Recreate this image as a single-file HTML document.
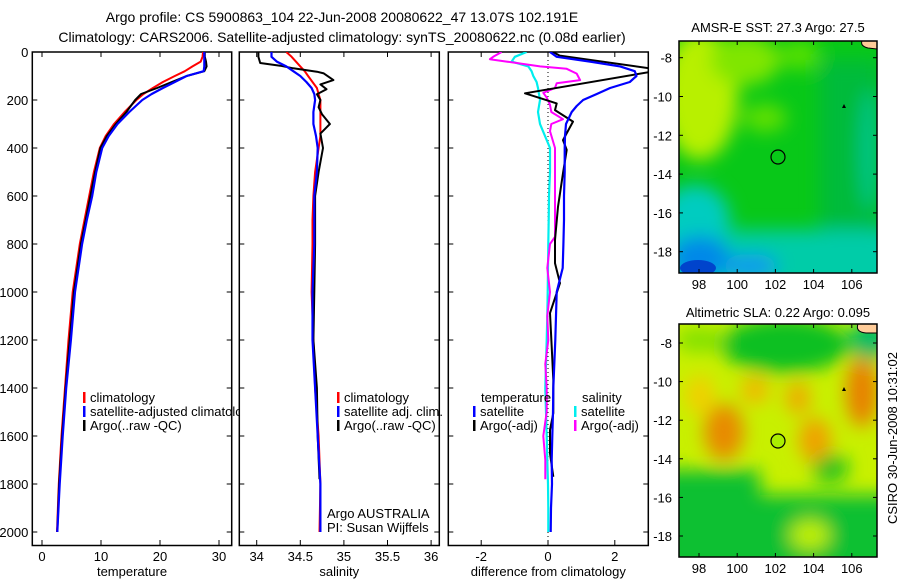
<!DOCTYPE html>
<html><head><meta charset="utf-8"><style>
html,body{margin:0;padding:0;background:#fff}
svg{display:block;font-family:"Liberation Sans",sans-serif}
</style></head><body>
<svg id="c" width="900" height="580" viewBox="0 0 900 580" xmlns="http://www.w3.org/2000/svg">
<defs>
<clipPath id="cp1"><rect x="32" y="52" width="200" height="494"/></clipPath>
<clipPath id="cp2"><rect x="239" y="52" width="201" height="494"/></clipPath>
<clipPath id="cp3"><rect x="448" y="52" width="201" height="494"/></clipPath>
<clipPath id="cm1"><rect x="679" y="41" width="198" height="232"/></clipPath>
<clipPath id="cm2"><rect x="679" y="324" width="198" height="233"/></clipPath>
<filter id="bl" x="-50%" y="-50%" width="200%" height="200%"><feGaussianBlur stdDeviation="9"/></filter>
</defs>
<text x="342" y="22" font-size="14" text-anchor="middle">Argo profile: CS 5900863_104 22-Jun-2008 20080622_47 13.07S 102.191E</text>
<text x="342" y="42" font-size="14" text-anchor="middle">Climatology: CARS2006. Satellite-adjusted climatology: synTS_20080622.nc (0.08d earlier)</text>

<!-- map 1 -->
<g>
<g clip-path="url(#cm1)">
<rect x="679" y="41" width="198" height="232" fill="#08c818"/>
<g filter="url(#bl)">
<rect x="820" y="60" width="60" height="200" fill="#05bb3a"/>
<ellipse cx="700" cy="95" rx="38" ry="65" fill="#b8f000"/>
<ellipse cx="745" cy="60" rx="35" ry="25" fill="#80e600"/>
<ellipse cx="765" cy="118" rx="22" ry="14" fill="#60e000"/>
<ellipse cx="800" cy="55" rx="20" ry="15" fill="#55e000"/>
<rect x="660" y="230" width="240" height="60" fill="#00cca8"/>
<ellipse cx="695" cy="220" rx="35" ry="35" fill="#00ccc0"/>
<ellipse cx="700" cy="258" rx="30" ry="22" fill="#0088e8"/>
<ellipse cx="750" cy="266" rx="28" ry="12" fill="#1199ee"/>
<ellipse cx="870" cy="150" rx="10" ry="60" fill="#00c48a"/>
</g>
<ellipse cx="698" cy="268" rx="18" ry="8" fill="#0044cc"/>
<path d="M862 41 L877 41 L877 49 L868 48 Q860 46 862 41 Z" fill="#ffcc99" stroke="#000" stroke-width="1"/>
</g>
<rect x="679" y="41" width="198" height="232" fill="none" stroke="#000" stroke-width="1.5"/>
<circle cx="778" cy="157" r="7" fill="none" stroke="#000" stroke-width="1.2"/>
<path d="M842 108 L844 104 L846 108 Z" fill="#000"/>
<text x="778" y="32" font-size="13" text-anchor="middle">AMSR-E SST: 27.3 Argo: 27.5</text>
</g>
<!-- map 2 -->
<g>
<g clip-path="url(#cm2)">
<rect x="679" y="324" width="198" height="233" fill="#c8f000"/>
<g filter="url(#bl)">
<ellipse cx="785" cy="345" rx="65" ry="28" fill="#10c020"/>
<ellipse cx="700" cy="340" rx="25" ry="12" fill="#80e000"/>
<ellipse cx="870" cy="340" rx="20" ry="20" fill="#00bb66"/>
<rect x="660" y="495" width="260" height="80" fill="#10c030"/>
<rect x="660" y="470" width="100" height="40" fill="#10c030"/>
<ellipse cx="830" cy="468" rx="18" ry="14" fill="#10c020"/>
<ellipse cx="810" cy="535" rx="20" ry="15" fill="#c0f000"/>
<ellipse cx="724" cy="432" rx="20" ry="28" fill="#e88a00"/>
<ellipse cx="862" cy="392" rx="16" ry="35" fill="#e88000"/>
<ellipse cx="755" cy="390" rx="14" ry="14" fill="#f0b800"/>
<ellipse cx="798" cy="398" rx="12" ry="16" fill="#f0a800"/>
<ellipse cx="815" cy="440" rx="16" ry="22" fill="#f0a000"/>
<ellipse cx="700" cy="395" rx="15" ry="20" fill="#f0d000"/>
</g>
<path d="M858 324 L877 324 L877 333 L866 333 Q855 332 858 324 Z" fill="#ffcc99" stroke="#000" stroke-width="1"/>
</g>
<rect x="679" y="324" width="198" height="233" fill="none" stroke="#000" stroke-width="1.5"/>
<circle cx="778" cy="441" r="7" fill="#aaee00" stroke="#000" stroke-width="1.2"/>
<path d="M842 391 L844 387 L846 391 Z" fill="#000"/>
<text x="778" y="317" font-size="13" text-anchor="middle">Altimetric SLA: 0.22 Argo: 0.095</text>
</g>
<text transform="translate(897,438) rotate(-90)" font-size="13" text-anchor="middle">CSIRO 30-Jun-2008 10:31:02</text>
<g id="dyn"></g>
</svg>
<script>
// ---- data ----
const depthT = [0,20,40,60,80,100,125,150,175,200,250,300,350,400,500,600,700,800,1000,1200,1400,1600,1800,2000];
const climT = [27.3,27.2,26.9,25.5,24.2,22.5,20.5,18.8,17.2,16.0,14.0,12.2,10.8,9.8,8.8,8.0,7.2,6.4,5.2,4.5,3.9,3.3,2.85,2.55];
const satT = [27.5,27.5,27.5,27.5,27.4,24.5,22.5,20.5,18.6,17.0,14.8,12.8,11.3,10.2,9.2,8.5,7.6,6.8,5.6,4.9,4.1,3.5,3.0,2.6];
const argoT = [27.6,27.6,27.8,27.9,27.5,24.5,22.0,19.5,16.8,15.8,14.3,12.5,11.0,9.9,9.0,8.2,7.4,6.6,5.4,4.7,4.0,3.4,2.9,2.6];
const climS = [34.34,34.40,34.45,34.50,34.55,34.59,34.64,34.69,34.71,34.73,34.73,34.73,34.73,34.71,34.67,34.65,34.64,34.64,34.63,34.65,34.67,34.71,34.73,34.72];
const satS = [34.17,34.17,34.23,34.34,34.42,34.50,34.57,34.63,34.66,34.67,34.65,34.65,34.68,34.70,34.69,34.66,34.66,34.66,34.64,34.64,34.67,34.70,34.73,34.73];
const argoSDepth = [0,20,46,57,68,82,89,117,135,155,176,200,230,260,300,340,400,500,600,800,1000,1200,1400,1600,1780];
const argoS = [34.02,34.02,34.04,34.27,34.42,34.69,34.77,34.88,34.73,34.80,34.69,34.73,34.71,34.75,34.84,34.73,34.76,34.71,34.67,34.67,34.66,34.65,34.69,34.70,34.72];
const depthD = [0,20,40,60,80,100,125,150,175,200,225,250,300,350,400,500,600,700,800,900,1000,1100,1200,1300,1400,1500,1600,1700,1800,1900,2000];
const dTsat = [0.06,0.26,1.26,2.16,2.6,2.65,2.45,1.86,1.46,1.05,0.86,0.71,0.54,0.51,0.5,0.5,0.48,0.48,0.46,0.44,0.26,0.24,0.22,0.19,0.16,0.15,0.13,0.11,0.12,0.09,0.08];
const dSsat = [-0.64,-0.99,-1.09,-0.59,-0.49,-0.44,-0.34,-0.3,-0.27,-0.24,-0.27,-0.3,-0.24,-0.09,0.06,0.06,0.03,0.02,0.01,0.0,-0.01,-0.02,-0.04,-0.06,-0.08,-0.06,-0.04,-0.02,0.0,0.01,0.01];
const dTargoDepth = [0,15,75,172,192,214,242,290,367,408,505,645,783,880,963,1088,1228,1367,1505,1575,1672,1770];
const dTargo = [0.15,0.35,3.4,-0.69,-0.24,0.26,0.21,0.75,0.45,0.56,0.45,0.3,0.21,0.21,0.36,0.06,0.11,0.16,0.16,0.06,0.06,0.16];
const dSargoDepth = [0,20,30,40,60,70,90,117,130,150,170,190,220,250,280,300,330,400,500,600,770,800,900,1000,1100,1200,1300,1400,1500,1600,1700,1780];
const dSargo = [-1.39,-1.64,-1.74,-1.24,-0.24,0.56,0.86,0.96,0.26,0.21,-0.14,-0.04,0.06,0.1,0.45,0.1,0.06,0.21,0.21,0.21,0.21,0.06,-0.02,0.06,-0.02,0.01,-0.08,-0.04,-0.04,-0.14,-0.08,-0.08];
const depthTicks = [0,200,400,600,800,1000,1200,1400,1600,1800,2000];
const tTicks = [0,10,20,30];
const sTicks = [34,34.5,35,35.5,36];
const dTicks = [-2,0,2];
const lonTicks = [98,100,102,104,106];
const latTicks = [-8,-10,-12,-14,-16,-18];

// ---- axes ----
const NS = "http://www.w3.org/2000/svg";
const g = document.getElementById('dyn');
const Y = d => 52 + d * 0.24;
const X1 = v => 42 + v * 5.9;
const X2 = v => 256.7 + (v - 34) * 87.2;
const X3 = v => 548 + v * 33.4;
const LX = v => 699 + (v - 98) * 19.1;
const LY1 = v => 57.7 + (-8 - v) * 19.4;
const LY2 = v => 343 + (-8 - v) * 19.3;

function mk(tag, attrs, parent) {
  const e = document.createElementNS(NS, tag);
  for (const k in attrs) e.setAttribute(k, attrs[k]);
  (parent || g).appendChild(e);
  return e;
}
function txt(x, y, s, anchor, size, parent) {
  const t = mk('text', {x: x, y: y, 'font-size': size || 13, 'text-anchor': anchor || 'middle'}, parent);
  t.textContent = s;
  return t;
}
function line(xs, ds, X, color, w, clip, name) {
  const pts = xs.map((v, i) => X(v).toFixed(1) + ',' + Y(ds[i]).toFixed(1)).join(' ');
  const p = mk('polyline', {points: pts, fill: 'none', stroke: color, 'stroke-width': w, 'clip-path': 'url(#' + clip + ')', 'stroke-linejoin': 'round'});
  
  
  return p;
}
function panel(x0, x1, X, ticks, label, yLabels, name) {
  const grp = mk('g', {});
  
  
  mk('rect', {x: x0, y: 52, width: x1 - x0, height: 493.5, fill: '#fff', stroke: '#000', 'stroke-width': 1.5}, grp);
  depthTicks.forEach(d => {
    mk('line', {x1: x0, x2: x0 + 5, y1: Y(d), y2: Y(d), stroke: '#000', 'stroke-width': 1}, grp);
    mk('line', {x1: x1 - 5, x2: x1, y1: Y(d), y2: Y(d), stroke: '#000', 'stroke-width': 1}, grp);
    if (yLabels) {
      const t = txt(x0 - 4, Y(d) + 5, String(d), 'end', 13, grp);
      
      
    }
  });
  ticks.forEach(v => {
    mk('line', {x1: X(v), x2: X(v), y1: 52, y2: 57, stroke: '#000', 'stroke-width': 1}, grp);
    mk('line', {x1: X(v), x2: X(v), y1: 540, y2: 545.5, stroke: '#000', 'stroke-width': 1}, grp);
    const t = txt(X(v), 561, String(v), 'middle', 13, grp);
    
    
  });
  const xl = txt((x0 + x1) / 2, 576, label, 'middle', 13, grp);
  
  
}
function legend(x, y, color, label, name) {
  const lg = mk('g', {});
  
  
  mk('rect', {x: x, y: y - 10, width: 2.5, height: 11, fill: color}, lg);
  txt(x + 7, y, label, 'start', 13, lg);
}

// panel 1 (temperature)
panel(32.3, 231.7, X1, tTicks, 'temperature', true, 'temperature-panel');
line(climT, depthT, X1, '#f00', 2, 'cp1', 'temperature-climatology-line');
line(argoT, depthT, X1, '#000', 2, 'cp1', 'temperature-argo-line');
line(satT, depthT, X1, '#00f', 2.2, 'cp1', 'temperature-satellite-line');
legend(83, 402, '#f00', 'climatology', 'legend-climatology');
legend(83, 416, '#00f', 'satellite-adjusted climatology', 'legend-satellite-adjusted');
legend(83, 430, '#000', 'Argo(..raw -QC)', 'legend-argo');

// panel 2 (salinity)
panel(239.3, 439.3, X2, sTicks, 'salinity', false, 'salinity-panel');
line(climS, depthT, X2, '#f00', 2, 'cp2', 'salinity-climatology-line');
line(argoS, argoSDepth, X2, '#000', 2, 'cp2', 'salinity-argo-line');
line(satS, depthT, X2, '#00f', 2.2, 'cp2', 'salinity-satellite-line');
legend(337, 402, '#f00', 'climatology', 'legend-s-climatology');
legend(337, 416, '#00f', 'satellite adj. clim.', 'legend-s-satellite');
legend(337, 430, '#000', 'Argo(..raw -QC)', 'legend-s-argo');
const a1 = txt(327, 518, 'Argo AUSTRALIA', 'start', 13);  
const a2 = txt(327, 532, 'PI: Susan Wijffels', 'start', 13);  

// panel 3 (difference)
panel(448.3, 648.3, X3, dTicks, 'difference from climatology', false, 'difference-panel');
mk('line', {x1: X3(0), x2: X3(0), y1: 52, y2: 545, stroke: '#000', 'stroke-width': 1, 'stroke-dasharray': '1,3'});
line(dSsat, depthD, X3, '#0ee', 2.2, 'cp3', 'salinity-satellite-diff-line');
line(dSargo, dSargoDepth, X3, '#f0f', 2, 'cp3', 'salinity-argo-diff-line');
line(dTargo, dTargoDepth, X3, '#000', 2, 'cp3', 'temperature-argo-diff-line');
line(dTsat, depthD, X3, '#00f', 2.2, 'cp3', 'temperature-satellite-diff-line');
const lt = txt(481, 402, 'temperature', 'start', 13);  
const ls = txt(582, 402, 'salinity', 'start', 13);  
legend(473, 416, '#00f', 'satellite', 'legend-d-temp-satellite');
legend(473, 430, '#000', 'Argo(-adj)', 'legend-d-temp-argo');
legend(574, 416, '#0ee', 'satellite', 'legend-d-sal-satellite');
legend(574, 430, '#f0f', 'Argo(-adj)', 'legend-d-sal-argo');

// map axes
function mapAxes(top, bottom, LY) {
  lonTicks.forEach(v => {
    mk('line', {x1: LX(v), x2: LX(v), y1: top, y2: top + 4, stroke: '#000'});
    mk('line', {x1: LX(v), x2: LX(v), y1: bottom - 4, y2: bottom, stroke: '#000'});
    const t = txt(LX(v), bottom + 16, String(v), 'middle', 13);
     
  });
  latTicks.forEach(v => {
    mk('line', {x1: 679, x2: 683, y1: LY(v), y2: LY(v), stroke: '#000'});
    mk('line', {x1: 873, x2: 877, y1: LY(v), y2: LY(v), stroke: '#000'});
    const t = txt(672, LY(v) + 5, String(v), 'end', 13);
     
  });
}
mapAxes(41, 273, LY1);
mapAxes(324, 557, LY2);
</script>
</body></html>
